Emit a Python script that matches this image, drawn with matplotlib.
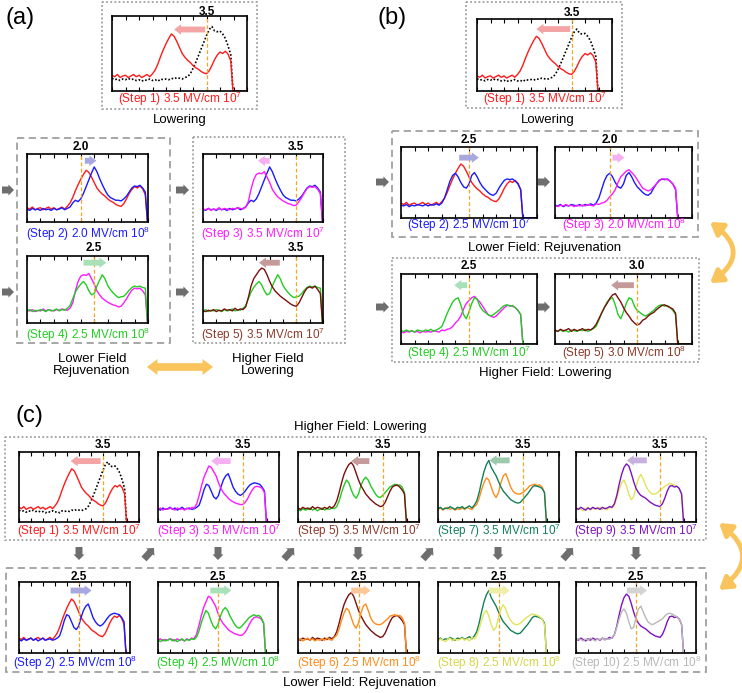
import numpy as np
import matplotlib
matplotlib.use('Agg')
import matplotlib.pyplot as plt
from matplotlib.patches import FancyArrowPatch, Rectangle

plt.rcParams['font.family'] = ['Liberation Sans', 'DejaVu Sans']
plt.rcParams['mathtext.default'] = 'regular'

W, H = 742, 693

# ---------------- data ----------------
X = [0.0, 0.1, 0.2, 0.3, 0.4, 0.5, 0.6, 0.7, 0.8, 0.9,
     1.0, 1.1, 1.2, 1.3, 1.4, 1.5, 1.6, 1.7, 1.8, 1.9,
     2.0, 2.1, 2.2, 2.3, 2.4, 2.5, 2.6, 2.7, 2.8, 2.9,
     3.0, 3.1, 3.2, 3.3, 3.4, 3.5, 3.6, 3.7, 3.8, 3.9,
     4.0, 4.1, 4.2, 4.3, 4.4, 4.48, 5.0]

P0 = [0.17, 0.15, 0.16, 0.14, 0.16, 0.15, 0.17, 0.15, 0.16, 0.14,
      0.15, 0.13, 0.15, 0.14, 0.16, 0.14, 0.15, 0.13, 0.16, 0.15,
      0.16, 0.15, 0.17, 0.16, 0.18, 0.17, 0.16, 0.18, 0.19, 0.23,
      0.30, 0.38, 0.47, 0.56, 0.65, 0.74, 0.82, 0.86, 0.80, 0.79,
      0.80, 0.76, 0.70, 0.60, 0.48, 0.0, 0.0]
R1 = [0.21, 0.19, 0.22, 0.18, 0.20, 0.21, 0.18, 0.20, 0.22, 0.19,
      0.21, 0.18, 0.20, 0.22, 0.19, 0.23, 0.28, 0.36, 0.46, 0.55,
      0.63, 0.70, 0.76, 0.73, 0.66, 0.58, 0.50, 0.45, 0.41, 0.38,
      0.34, 0.31, 0.29, 0.26, 0.24, 0.23, 0.27, 0.34, 0.42, 0.48,
      0.52, 0.50, 0.53, 0.49, 0.40, 0.0, 0.0]
# panel (a)
A_BLUE = [0.19, 0.17, 0.20, 0.18, 0.19, 0.17, 0.20, 0.18, 0.19, 0.17,
          0.20, 0.18, 0.19, 0.21, 0.18, 0.20, 0.22, 0.28, 0.32, 0.30,
          0.34, 0.42, 0.52, 0.62, 0.72, 0.81, 0.74, 0.64, 0.55, 0.47,
          0.40, 0.36, 0.34, 0.32, 0.32, 0.31, 0.34, 0.38, 0.44, 0.50,
          0.53, 0.52, 0.54, 0.50, 0.44, 0.0, 0.0]
A_MAG = [0.19, 0.18, 0.20, 0.17, 0.19, 0.18, 0.21, 0.18, 0.20, 0.19,
         0.18, 0.20, 0.19, 0.21, 0.20, 0.19, 0.22, 0.30, 0.48, 0.62,
         0.70, 0.72, 0.71, 0.74, 0.66, 0.58, 0.48, 0.42, 0.37, 0.34,
         0.31, 0.29, 0.27, 0.26, 0.24, 0.25, 0.30, 0.36, 0.43, 0.49,
         0.52, 0.51, 0.52, 0.48, 0.42, 0.0, 0.0]
A_GRN = [0.18, 0.20, 0.17, 0.19, 0.18, 0.20, 0.19, 0.17, 0.20, 0.18,
         0.19, 0.21, 0.18, 0.20, 0.19, 0.22, 0.26, 0.36, 0.46, 0.53,
         0.58, 0.62, 0.57, 0.48, 0.42, 0.44, 0.55, 0.64, 0.72, 0.66,
         0.56, 0.50, 0.45, 0.41, 0.38, 0.39, 0.40, 0.44, 0.49, 0.53,
         0.55, 0.54, 0.55, 0.53, 0.52, 0.0, 0.0]
A_BRN = [0.18, 0.17, 0.19, 0.18, 0.20, 0.17, 0.19, 0.18, 0.21, 0.19,
         0.20, 0.18, 0.22, 0.19, 0.21, 0.20, 0.24, 0.38, 0.55, 0.66,
         0.72, 0.78, 0.82, 0.80, 0.72, 0.62, 0.54, 0.48, 0.44, 0.40,
         0.37, 0.34, 0.31, 0.28, 0.26, 0.25, 0.30, 0.38, 0.46, 0.52,
         0.54, 0.52, 0.55, 0.50, 0.44, 0.0, 0.0]
# panel (b)
B_BLUE = [0.18, 0.17, 0.19, 0.16, 0.18, 0.17, 0.19, 0.18, 0.17, 0.19,
          0.17, 0.19, 0.18, 0.20, 0.18, 0.21, 0.28, 0.40, 0.52, 0.60,
          0.63, 0.58, 0.50, 0.44, 0.42, 0.48, 0.60, 0.64, 0.58, 0.50,
          0.44, 0.40, 0.36, 0.33, 0.32, 0.35, 0.42, 0.48, 0.53, 0.55,
          0.54, 0.55, 0.52, 0.48, 0.40, 0.0, 0.0]
B_MAG = [0.18, 0.16, 0.18, 0.17, 0.19, 0.17, 0.18, 0.16, 0.18, 0.17,
         0.18, 0.17, 0.19, 0.18, 0.17, 0.20, 0.19, 0.21, 0.22, 0.25,
         0.30, 0.34, 0.40, 0.50, 0.58, 0.62, 0.66, 0.68, 0.64, 0.60,
         0.54, 0.48, 0.42, 0.40, 0.38, 0.40, 0.44, 0.48, 0.52, 0.55,
         0.55, 0.54, 0.52, 0.48, 0.42, 0.0, 0.0]
B_GRN = [0.19, 0.18, 0.20, 0.18, 0.19, 0.17, 0.20, 0.19, 0.18, 0.20,
         0.19, 0.21, 0.18, 0.20, 0.22, 0.25, 0.34, 0.44, 0.52, 0.60,
         0.64, 0.66, 0.56, 0.42, 0.36, 0.46, 0.58, 0.66, 0.64, 0.54,
         0.48, 0.45, 0.42, 0.40, 0.42, 0.45, 0.48, 0.52, 0.55, 0.56,
         0.54, 0.55, 0.52, 0.48, 0.42, 0.0, 0.0]
B_BRN = [0.20, 0.18, 0.21, 0.19, 0.20, 0.22, 0.18, 0.21, 0.19, 0.20,
         0.22, 0.19, 0.21, 0.20, 0.23, 0.28, 0.36, 0.44, 0.52, 0.58,
         0.65, 0.70, 0.72, 0.66, 0.60, 0.52, 0.45, 0.40, 0.34, 0.30,
         0.27, 0.29, 0.34, 0.36, 0.40, 0.43, 0.45, 0.49, 0.52, 0.55,
         0.56, 0.54, 0.52, 0.50, 0.44, 0.0, 0.0]
# panel (c)
C_BLUE = [0.19, 0.17, 0.20, 0.18, 0.19, 0.21, 0.18, 0.20, 0.17, 0.19,
          0.21, 0.18, 0.19, 0.20, 0.18, 0.19, 0.21, 0.24, 0.34, 0.46,
          0.54, 0.52, 0.44, 0.36, 0.33, 0.38, 0.50, 0.60, 0.66, 0.69,
          0.60, 0.50, 0.44, 0.40, 0.38, 0.40, 0.44, 0.49, 0.53, 0.55,
          0.56, 0.55, 0.54, 0.50, 0.44, 0.0, 0.0]
C_MAG = [0.18, 0.20, 0.17, 0.19, 0.18, 0.20, 0.19, 0.17, 0.20, 0.18,
         0.19, 0.17, 0.20, 0.18, 0.21, 0.20, 0.26, 0.38, 0.52, 0.64,
         0.72, 0.80, 0.78, 0.72, 0.66, 0.56, 0.48, 0.42, 0.38, 0.34,
         0.31, 0.29, 0.27, 0.26, 0.25, 0.25, 0.28, 0.33, 0.40, 0.46,
         0.50, 0.51, 0.50, 0.48, 0.42, 0.0, 0.0]
C_GRN = [0.18, 0.16, 0.19, 0.17, 0.18, 0.20, 0.17, 0.19, 0.16, 0.18,
         0.20, 0.17, 0.19, 0.18, 0.20, 0.19, 0.22, 0.30, 0.42, 0.52,
         0.60, 0.56, 0.46, 0.38, 0.34, 0.40, 0.52, 0.60, 0.64, 0.60,
         0.52, 0.46, 0.40, 0.36, 0.35, 0.38, 0.42, 0.46, 0.50, 0.52,
         0.54, 0.52, 0.53, 0.50, 0.42, 0.0, 0.0]
C_BRN = [0.20, 0.18, 0.21, 0.19, 0.20, 0.18, 0.22, 0.19, 0.21, 0.20,
         0.18, 0.21, 0.19, 0.22, 0.20, 0.23, 0.30, 0.42, 0.56, 0.68,
         0.76, 0.82, 0.85, 0.80, 0.70, 0.60, 0.52, 0.46, 0.40, 0.36,
         0.32, 0.29, 0.26, 0.24, 0.22, 0.23, 0.28, 0.36, 0.44, 0.50,
         0.52, 0.53, 0.50, 0.46, 0.40, 0.0, 0.0]
C_ORG = [0.18, 0.20, 0.17, 0.19, 0.21, 0.18, 0.20, 0.17, 0.19, 0.18,
         0.20, 0.18, 0.21, 0.19, 0.18, 0.22, 0.25, 0.34, 0.46, 0.56,
         0.63, 0.60, 0.50, 0.40, 0.35, 0.42, 0.56, 0.66, 0.69, 0.60,
         0.50, 0.44, 0.41, 0.40, 0.40, 0.42, 0.45, 0.48, 0.52, 0.53,
         0.54, 0.52, 0.53, 0.50, 0.42, 0.0, 0.0]
C_DGR = [0.19, 0.21, 0.18, 0.20, 0.19, 0.22, 0.20, 0.18, 0.21, 0.20,
         0.22, 0.19, 0.21, 0.23, 0.20, 0.24, 0.30, 0.42, 0.58, 0.72,
         0.82, 0.88, 0.78, 0.72, 0.66, 0.58, 0.50, 0.44, 0.40, 0.36,
         0.32, 0.30, 0.28, 0.27, 0.28, 0.32, 0.36, 0.40, 0.45, 0.50,
         0.52, 0.51, 0.50, 0.48, 0.42, 0.0, 0.0]
C_YEL = [0.17, 0.20, 0.18, 0.16, 0.19, 0.21, 0.17, 0.20, 0.18, 0.19,
         0.21, 0.18, 0.20, 0.17, 0.22, 0.20, 0.24, 0.34, 0.46, 0.56,
         0.60, 0.52, 0.40, 0.32, 0.36, 0.50, 0.62, 0.68, 0.62, 0.52,
         0.46, 0.42, 0.40, 0.40, 0.42, 0.45, 0.48, 0.51, 0.53, 0.55,
         0.54, 0.53, 0.51, 0.48, 0.40, 0.0, 0.0]
C_PUR = [0.20, 0.18, 0.21, 0.19, 0.17, 0.20, 0.18, 0.21, 0.19, 0.20,
         0.18, 0.21, 0.19, 0.20, 0.22, 0.21, 0.26, 0.38, 0.54, 0.68,
         0.78, 0.83, 0.80, 0.70, 0.58, 0.48, 0.42, 0.38, 0.36, 0.34,
         0.31, 0.28, 0.26, 0.24, 0.23, 0.22, 0.26, 0.34, 0.44, 0.51,
         0.52, 0.50, 0.51, 0.48, 0.40, 0.0, 0.0]
C_GRY = [0.18, 0.20, 0.19, 0.17, 0.20, 0.18, 0.21, 0.19, 0.17, 0.20,
         0.19, 0.21, 0.18, 0.20, 0.19, 0.22, 0.26, 0.36, 0.48, 0.58,
         0.62, 0.56, 0.44, 0.34, 0.36, 0.50, 0.62, 0.66, 0.58, 0.50,
         0.44, 0.41, 0.40, 0.42, 0.44, 0.46, 0.48, 0.52, 0.55, 0.56,
         0.55, 0.53, 0.51, 0.48, 0.40, 0.0, 0.0]

# colours
K = 'black'
RED, BLUE, MAG, GRN = '#ff1a1a', '#1a1aff', '#ff1aff', '#22cc22'
BRN, ORG, DGR, YEL = '#7a0f0f', '#ff8c1a', '#14805a', '#e3e35a'
PUR, GRY = '#7d12c0', '#b8b8b8'
BRN_T, YEL_T = '#8b3a2a', '#d6d64a'
DASH_C = '#f5a623'
ARR = {'red': '#f4a4a4', 'blue': '#a8a8e0', 'mag': '#f4b0f0', 'grn': '#a8e0b8',
       'brn': '#c49a9a', 'org': '#fcc89a', 'dgr': '#9cc8ac', 'yel': '#eeeea8',
       'pur': '#c8b0dc', 'gry': '#d4d4d4'}

# (box px, xmax, field, old, old colour, old ls, new, new colour, step, exp,
#  label colour, arrow (from, to, y), arrow colour, title gap px, label gap px)
panels = [
    ((112, 16, 247, 91), 5.0, '3.5', P0, K, ':', R1, RED, 1, 7, RED, (3.45, 2.3, 0.82), 'red', 4, 8),
    ((27, 154, 148, 222), 4.5, '2.0', R1, RED, '-', A_BLUE, BLUE, 2, 8, BLUE, (2.15, 2.58, 0.9), 'blue', 7, 12),
    ((203, 154, 323, 222), 4.5, '3.5', A_BLUE, BLUE, '-', A_MAG, MAG, 3, 7, MAG, (2.5, 2.06, 0.9), 'mag', 7, 12),
    ((27, 256, 148, 323), 4.5, '2.5', A_MAG, MAG, '-', A_GRN, GRN, 4, 8, GRN, (2.1, 2.95, 0.9), 'grn', 8, 12),
    ((203, 256, 323, 323), 4.5, '3.5', A_GRN, GRN, '-', A_BRN, BRN, 5, 7, BRN_T, (2.88, 2.1, 0.9), 'brn', 8, 12),
    ((477, 19, 612, 91), 5.0, '3.5', P0, K, ':', R1, RED, 1, 7, RED, (3.45, 2.2, 0.86), 'red', 6, 8),
    ((401, 147, 537, 218), 5.0, '2.5', R1, RED, '-', B_BLUE, BLUE, 2, 7, BLUE, (2.14, 2.86, 0.85), 'blue', 7, 7),
    ((555, 147, 692, 218), 5.0, '2.0', B_BLUE, BLUE, '-', B_MAG, MAG, 3, 8, MAG, (2.1, 2.54, 0.85), 'mag', 7, 7),
    ((401, 274, 537, 344), 5.0, '2.5', B_MAG, MAG, '-', B_GRN, GRN, 4, 7, GRN, (2.43, 1.96, 0.84), 'grn', 8, 9),
    ((555, 274, 692, 344), 5.0, '3.0', B_GRN, GRN, '-', B_BRN, BRN, 5, 8, BRN_T, (2.88, 2.05, 0.84), 'brn', 8, 9),
    ((19, 452, 139, 522), 5.0, '3.5', P0, K, ':', R1, RED, 1, 7, RED, (3.4, 2.15, 0.87), 'red', 6.5, 9),
    ((158, 452, 279, 522), 5.0, '3.5', C_BLUE, BLUE, '-', C_MAG, MAG, 3, 7, MAG, (3.0, 2.2, 0.87), 'mag', 6.5, 9),
    ((298, 452, 419, 522), 5.0, '3.5', C_GRN, GRN, '-', C_BRN, BRN, 5, 7, BRN_T, (2.95, 2.2, 0.87), 'brn', 6.5, 9),
    ((438, 452, 559, 522), 5.0, '3.5', C_ORG, ORG, '-', C_DGR, DGR, 7, 7, DGR, (2.96, 2.13, 0.88), 'dgr', 6.5, 9),
    ((576, 452, 696, 522), 5.0, '3.5', C_YEL, YEL, '-', C_PUR, PUR, 9, 7, PUR, (2.95, 2.12, 0.88), 'pur', 6.5, 9),
    ((19, 582, 130, 653), 4.65, '2.5', R1, RED, '-', C_BLUE, BLUE, 2, 8, BLUE, (2.16, 3.04, 0.88), 'blue', 5, 10),
    ((158, 582, 278, 653), 5.0, '2.5', C_MAG, MAG, '-', C_GRN, GRN, 4, 8, GRN, (2.18, 3.05, 0.88), 'grn', 5, 10),
    ((298, 582, 419, 653), 5.0, '2.5', C_BRN, BRN, '-', C_ORG, ORG, 6, 8, ORG, (2.2, 3.0, 0.88), 'org', 5, 10),
    ((438, 582, 559, 653), 5.0, '2.5', C_DGR, DGR, '-', C_YEL, YEL, 8, 8, YEL_T, (2.1, 2.97, 0.88), 'yel', 5, 10),
    ((576, 582, 696, 653), 5.0, '2.5', C_PUR, PUR, '-', C_GRY, GRY, 10, 8, GRY, (2.12, 2.96, 0.88), 'gry', 5, 10),
]

# ---------------- figure ----------------
fig = plt.figure(figsize=(W / 100, H / 100), dpi=100)
ov = fig.add_axes([0, 0, 1, 1])
ov.set_xlim(0, W)
ov.set_ylim(H, 0)
ov.axis('off')

PT = 0.72  # px -> pt at 100 dpi

for (box, xmax, field, old, oc, ols, new, nc, step, ex, lc, arr, ac, tg, lg) in panels:
    x0, y0, x1, y1 = box
    ax = fig.add_axes([x0 / W, 1 - y1 / H, (x1 - x0) / W, (y1 - y0) / H])
    if ols == ':':
        ax.plot(X, old, color=oc, lw=1.2, ls=(0, (1, 1.2)))
    else:
        ax.plot(X, old, color=oc, lw=1.0)
    ax.plot(X, new, color=nc, lw=1.0)
    fv = float(field)
    ax.axvline(fv, color=DASH_C, lw=0.9, ls=(0, (3, 2)))
    ax.set_xlim(0, xmax)
    ax.set_ylim(0, 1.0)
    ax.set_xticks(np.arange(0, xmax + 0.01, 0.5))
    ax.set_yticks([])
    ax.tick_params(axis='x', direction='in', top=True, bottom=True, length=3,
                   width=0.8, labelbottom=False)
    for s in ax.spines.values():
        s.set_linewidth(1.2)
    a0, a1, ay = arr
    ax.add_patch(FancyArrowPatch((a0, ay), (a1, ay),
                                 arrowstyle='simple,head_length=0.5,head_width=0.75,tail_width=0.42',
                                 mutation_scale=10, color=ARR[ac], lw=0,
                                 shrinkA=0, shrinkB=0, zorder=5))
    ax.annotate(field, xy=(fv, 1), xycoords=('data', 'axes fraction'),
                xytext=(0, tg * PT), textcoords='offset points', ha='center',
                va='center', fontsize=8.5, fontweight='bold')
    ax.annotate(f'(Step {step}) {field} MV/cm 10$^{{{ex}}}$', xy=(0.5, 0),
                xycoords='axes fraction', xytext=(0, -lg * PT),
                textcoords='offset points', ha='center', va='center',
                fontsize=8.5, color=lc)

# group frames
GC = '#a0a0a0'
def frame(x0, y0, x1, y1, ls):
    ov.add_patch(Rectangle((x0, y0), x1 - x0, y1 - y0, fill=False, ec=GC, lw=1.3, ls=ls))

DOT = (0, (1, 1.3))
DSH = (0, (4, 2.5))
frame(102, 2, 257, 109, DOT)
frame(17, 138, 170, 343, DSH)
frame(193, 137, 345, 343, DOT)
frame(466, 2, 622, 108, DOT)
frame(392, 131, 698, 237, DSH)
frame(392, 258, 699, 362, DOT)
frame(5, 437, 706, 540, DOT)
frame(6, 568, 706, 672, DSH)

# texts
ov.text(20, 18, '(a)', fontsize=17, ha='center', va='center')
ov.text(392, 18, '(b)', fontsize=17, ha='center', va='center')
ov.text(29, 416, '(c)', fontsize=17, ha='center', va='center')
TS = 9.5
ov.text(180, 120, 'Lowering', fontsize=TS, ha='center', va='center')
ov.text(548, 120, 'Lowering', fontsize=TS, ha='center', va='center')
ov.text(92, 365, 'Lower Field\nRejuvenation', fontsize=TS, ha='center', va='center', linespacing=1.1)
ov.text(268, 365, 'Higher Field\nLowering', fontsize=TS, ha='center', va='center', linespacing=1.1)
ov.text(545, 248, 'Lower Field: Rejuvenation', fontsize=TS, ha='center', va='center')
ov.text(545, 373, 'Higher Field: Lowering', fontsize=TS, ha='center', va='center')
ov.text(360, 427, 'Higher Field: Lowering', fontsize=TS, ha='center', va='center')
ov.text(360, 683, 'Lower Field: Rejuvenation', fontsize=TS, ha='center', va='center')

# gray step arrows
GA = '#6e6e6e'
def garrow(p, q):
    ov.add_patch(FancyArrowPatch(p, q, arrowstyle='simple,head_length=0.4,head_width=0.8,tail_width=0.5',
                                 mutation_scale=10, color=GA, lw=0, shrinkA=0, shrinkB=0))

for yy in (190, 292):
    garrow((2, yy), (14, yy))
    garrow((176, yy), (189, yy))
for yy in (182, 307):
    garrow((376, yy), (389, yy))
    garrow((538, yy), (550, yy))
for xc in (79, 218, 358, 498, 636):
    garrow((xc, 547), (xc, 560))
for xc in (149, 289, 428, 568):
    garrow((xc - 5, 559), (xc + 5, 548))

# orange double arrows
OC = '#f9c45c'
for q in ((147, 367), (213, 367)):
    ov.add_patch(FancyArrowPatch((180, 367), q,
                                 arrowstyle='simple,head_length=0.75,head_width=1.15,tail_width=0.55',
                                 mutation_scale=10, color=OC, lw=0, shrinkA=0, shrinkB=0))
for (pa, pb, rad) in (((710, 222), (710, 283), -0.7), ((719, 523), (719, 590), -0.65)):
    ov.add_patch(FancyArrowPatch(pa, pb, connectionstyle=f'arc3,rad={rad}',
                                 arrowstyle='<|-|>,head_length=0.7,head_width=0.45',
                                 mutation_scale=10, color=OC, lw=3.5, shrinkA=0, shrinkB=0))

fig.savefig('out.png', dpi=100)
